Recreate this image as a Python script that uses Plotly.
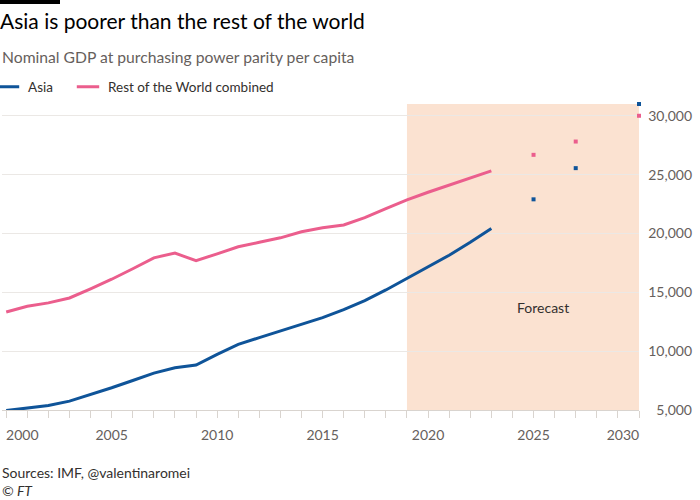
import plotly.graph_objects as go

years = list(range(2000, 2024))
asia = [4950, 5150, 5380, 5750, 6290, 6890, 7510, 8135, 8590, 8820, 9730, 10580,
        11150, 11700, 12250, 12850, 13535, 14300, 15200, 16180, 17100, 18150, 19250, 20430]
row = [13330, 13820, 14100, 14520, 15300, 16110, 17000, 17930, 18330, 17680, 18270, 18870,
       19250, 19630, 20150, 20480, 20720, 21350, 22120, 22850, 23500, 24100, 24700, 25320]

fc_years = [2025, 2027, 2030]
asia_fc = [22900, 25550, 31000]
row_fc = [26680, 27810, 30000]

tick_years = [2000, 2005, 2010, 2015, 2020, 2025, 2030]
tick_text = [str(y) for y in tick_years]
y_ticks = [5000, 10000, 15000, 20000, 25000, 30000]

forecast_start, forecast_end = 2019, 2030

BLUE = "#0f5499"
PINK = "#eb5e8d"
GREY = "#66605c"
FONT = "Lato"

fig = go.Figure()
fig.add_trace(go.Scatter(x=years, y=asia, mode="lines", line=dict(color=BLUE, width=3),
                         showlegend=False, hoverinfo="skip"))
fig.add_trace(go.Scatter(x=years, y=row, mode="lines", line=dict(color=PINK, width=3),
                         showlegend=False, hoverinfo="skip"))
fig.add_trace(go.Scatter(x=fc_years, y=asia_fc, mode="markers", cliponaxis=False,
                         marker=dict(color=BLUE, symbol="square", size=4), showlegend=False))
fig.add_trace(go.Scatter(x=fc_years, y=row_fc, mode="markers", cliponaxis=False,
                         marker=dict(color=PINK, symbol="square", size=4), showlegend=False))
# legend entries
fig.add_trace(go.Scatter(x=[None], y=[None], mode="markers", name="Asia", legend="legend",
                         marker=dict(symbol="line-ew", size=16, line=dict(color=BLUE, width=3))))
fig.add_trace(go.Scatter(x=[None], y=[None], mode="markers", name="Rest of the World combined",
                         legend="legend2",
                         marker=dict(symbol="line-ew", size=16, line=dict(color=PINK, width=3))))
# tick-mark carrier on overlay axis
fig.add_trace(go.Scatter(x=[None], y=[None], xaxis="x2", showlegend=False))

# label positions: first label left-aligned, last right-aligned, as in the original
nudge = 0.76
label_pos = [tick_years[0] + nudge] + tick_years[1:-1] + [tick_years[-1] - nudge]

xr = [1999.8, 2030]
dom_r = (639 - 2) / 693

fig.add_shape(type="rect", xref="x", yref="paper", x0=forecast_start, x1=forecast_end,
              y0=0, y1=1, fillcolor="#fbe0cd", opacity=0.92, line_width=0, layer="between")
fig.add_shape(type="rect", xref="paper", yref="paper", x0=-2/693, x1=58/693,
              y0=(410 - 0) / 306, y1=(410 - 4) / 306, fillcolor="#000000", line_width=0)

fig.add_annotation(x=2025.46, y=13730, text="Forecast", showarrow=False,
                   font=dict(family=FONT, size=14, color="#33302e"))
fig.add_annotation(xref="paper", yref="paper", x=-2/693, y=(410 - 57) / 306, xanchor="left",
                   yanchor="middle", showarrow=False,
                   text="Nominal GDP at purchasing power parity per capita",
                   font=dict(family=FONT, size=15.7, color=GREY))
fig.add_annotation(xref="paper", yref="paper", x=-2/693, y=(410 - 472) / 306, xanchor="left",
                   yanchor="middle", showarrow=False, text="Sources: IMF, @valentinaromei",
                   font=dict(family=FONT, size=14, color="#33302e"))
fig.add_annotation(xref="paper", yref="paper", x=-2/693, y=(410 - 490) / 306, xanchor="left",
                   yanchor="middle", showarrow=False, text="<i>© FT</i>",
                   font=dict(family=FONT, size=14, color="#33302e"))

leg_common = dict(orientation="h", xanchor="left", y=(410 - 87) / 306, yanchor="middle",
                  font=dict(family=FONT, size=13.5, color="#33302e"),
                  itemclick=False, itemdoubleclick=False, bgcolor="rgba(0,0,0,0)")

fig.update_layout(
    width=700, height=500,
    margin=dict(l=2, r=5, t=104, b=90, autoexpand=False),
    paper_bgcolor="white", plot_bgcolor="white",
    font=dict(family=FONT, color=GREY),
    title=dict(text="Asia is poorer than the rest of the world", x=0, xref="container",
               xanchor="left", y=1 - 22 / 500, yanchor="middle", pad=dict(l=0, r=0, t=0, b=0),
               font=dict(family=FONT, size=21, color="#000000")),
    showlegend=True,
    legend=dict(x=-14/693, **leg_common),
    legend2=dict(x=66/693, **leg_common),
    xaxis=dict(domain=[0, dom_r], range=xr, tickmode="array", tickvals=label_pos,
               ticktext=tick_text, ticks="", ticklabelstandoff=12, showgrid=False,
               zeroline=False, showline=True, linecolor="#d9d4cf", linewidth=1,
               tickfont=dict(family=FONT, size=14, color=GREY), fixedrange=True),
    xaxis2=dict(overlaying="x", anchor="y", side="bottom", range=xr, domain=[0, dom_r],
                tickmode="linear", tick0=2000, dtick=1, ticks="outside", ticklen=7,
                tickcolor="#d9d4cf", showticklabels=False, showgrid=False, zeroline=False,
                showline=False),
    yaxis=dict(range=[5000, 31000], tickvals=y_ticks, tickformat=",", anchor="free",
               position=1, side="left", ticks="", showgrid=True, gridcolor="#ebe8e5",
               zeroline=False, showline=False, ticklabelstandoff=3,
               tickfont=dict(family=FONT, size=14, color=GREY), fixedrange=True),
)

fig.write_html("out.html", config={"displayModeBar": False},
               post_script="document.body.style.margin='0';")
